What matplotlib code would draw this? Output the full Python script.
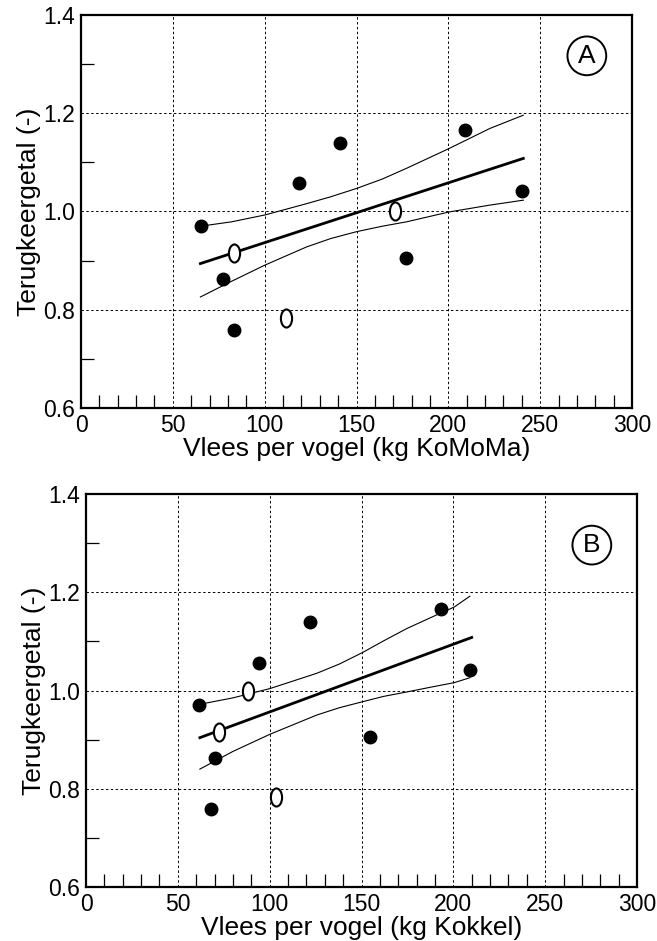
import numpy as np
import matplotlib
matplotlib.use("Agg")
import matplotlib.pyplot as plt
from matplotlib.path import Path
from matplotlib.transforms import Affine2D
from matplotlib.ticker import MultipleLocator, FixedLocator

plt.rcParams['font.family'] = ['Liberation Sans', 'DejaVu Sans']

# terugkeergetal per jaar (zelfde y voor beide panelen)
filled_y = [0.970, 0.862, 0.758, 1.057, 1.139, 1.166, 1.042, 0.906]
open_y = [0.916, 0.783, 1.000]

# A: vlees per vogel in kg KoMoMa
a_filled_x = [65.2, 77.5, 83.5, 118.9, 141.0, 208.9, 240.1, 176.9]
a_open_x = [83.5, 111.6, 171.1]
a_fit_x = [65.0, 240.8]
a_fit_y = [0.894, 1.108]
a_band_x = [65.0, 82.0, 100.2, 122.9, 136.0, 150.1, 164.0, 177.3, 200.3, 222.6, 240.8]
a_upper = [0.970, 0.979, 0.993, 1.016, 1.030, 1.047, 1.066, 1.088, 1.128, 1.169, 1.196]
a_lower = [0.826, 0.858, 0.891, 0.928, 0.945, 0.959, 0.970, 0.979, 0.999, 1.013, 1.023]

# B: vlees per vogel in kg Kokkel
b_filled_x = [61.7, 70.2, 68.2, 94.3, 121.9, 193.3, 209.2, 154.6]
b_open_x = [72.6, 103.6, 88.4]
b_fit_x = [62.0, 210.0]
b_fit_y = [0.904, 1.108]
b_band_x = [62.0, 80.0, 100.2, 125.6, 138.0, 150.4, 162.0, 174.6, 188.0, 200.5, 209.0]
b_upper = [0.972, 0.985, 1.004, 1.035, 1.054, 1.077, 1.101, 1.126, 1.149, 1.170, 1.192]
b_lower = [0.840, 0.876, 0.911, 0.950, 0.965, 0.977, 0.988, 0.997, 1.007, 1.016, 1.026]

ellipse = Path.unit_circle().transformed(Affine2D().scale(0.62, 1.0))


def panel(ax, fx, ox, fit_x, fit_y, bx, up, lo, xlabel, tag, tag_y):
    ax.set_xlim(0, 300)
    ax.set_ylim(0.6, 1.4)
    ax.xaxis.set_major_locator(MultipleLocator(50))
    ax.xaxis.set_minor_locator(MultipleLocator(10))
    ax.yaxis.set_major_locator(MultipleLocator(0.2))
    ax.yaxis.set_minor_locator(FixedLocator([0.7, 0.9, 1.1, 1.3]))
    ax.yaxis.set_major_formatter(matplotlib.ticker.FormatStrFormatter('%.1f'))
    ax.tick_params(which='major', length=0, labelsize=16.5, pad=4)
    ax.tick_params(which='minor', direction='in', length=9.5, width=0.9,
                   left=True, bottom=True)
    ax.grid(True, which='major', color='black', linestyle=(0, (2.5, 2.5)),
            linewidth=0.7)
    for s in ax.spines.values():
        s.set_linewidth(1.6)

    ax.plot(bx, up, color='black', lw=0.8)
    ax.plot(bx, lo, color='black', lw=0.8)
    ax.plot(fit_x, fit_y, color='black', lw=2.0)
    ax.plot(fx, filled_y, 'o', color='black', ms=9, ls='none')
    ax.plot(ox, open_y, marker=ellipse, ms=13, mfc='white', mec='black',
            mew=1.5, ls='none')

    ax.set_xlabel(xlabel, fontsize=19, labelpad=0)
    ax.set_ylabel('Terugkeergetal (-)', fontsize=19, labelpad=2)
    ax.text(0.918, tag_y, tag, transform=ax.transAxes, fontsize=19,
            ha='center', va='center',
            bbox=dict(boxstyle='circle,pad=0.28', fc='none', ec='black', lw=1.4))


fig = plt.figure(figsize=(6.57, 9.41), dpi=100)
ax1 = fig.add_axes([0.1233, 0.5664, 0.8387, 0.4177])
ax2 = fig.add_axes([0.1309, 0.0574, 0.8387, 0.4176])

panel(ax1, a_filled_x, a_open_x, a_fit_x, a_fit_y, a_band_x, a_upper, a_lower,
      'Vlees per vogel (kg KoMoMa)', 'A', 0.896)
panel(ax2, b_filled_x, b_open_x, b_fit_x, b_fit_y, b_band_x, b_upper, b_lower,
      'Vlees per vogel (kg Kokkel)', 'B', 0.870)

fig.savefig('out.png', dpi=100)
